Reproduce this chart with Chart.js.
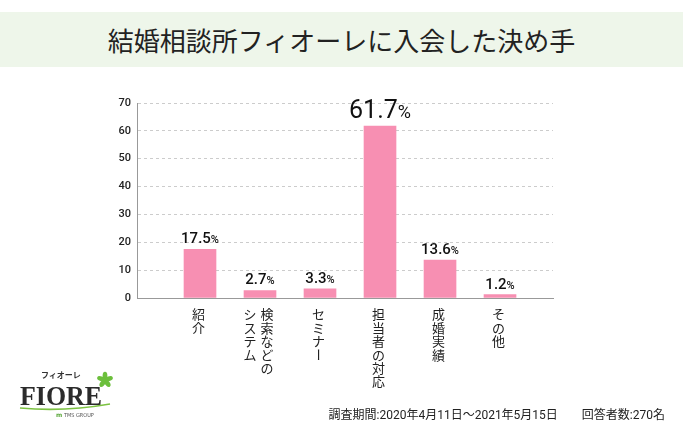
<!DOCTYPE html>
<html lang="ja">
<head>
<meta charset="utf-8">
<script src="https://cdn.jsdelivr.net/npm/chart.js"></script>
<style>
  html, body { margin: 0; padding: 0; background: #fff; }
  body { width: 683px; height: 436px; position: relative; overflow: hidden; font-family: Roboto, "Noto Sans CJK JP", sans-serif; }
  #title { position: absolute; left: 0; top: 12px; width: 683px; height: 55px; line-height: 55px; background: #eef6ea;
           text-align: center; font-family: "Noto Sans CJK JP"; font-size: 26px; color: #222; }
  #wrap { position: absolute; left: 0; top: 0; width: 683px; height: 436px; }
  #note { position: absolute; right: 18px; top: 405px; font-size: 12px; color: #222; white-space: nowrap; }
  #logo { position: absolute; left: 10px; top: 365px; }
</style>
</head>
<body>
<div id="title">結婚相談所フィオーレに入会した決め手</div>
<div id="wrap"><canvas id="barChart" width="683" height="436"></canvas></div>
<div id="note">調査期間:2020年4月11日〜2021年5月15日　　回答者数:270名</div>
<svg id="logo" width="110" height="60" viewBox="0 0 110 60">
  <text x="31" y="13" font-family="Noto Sans CJK JP" font-size="8" font-weight="bold" fill="#333">フィオーレ</text>
  <text x="10" y="40" font-family="Liberation Serif" font-size="28" font-weight="bold" fill="#2b2b2b"
        textLength="82" lengthAdjust="spacingAndGlyphs">FIORE</text>
  <path d="M10 43 Q 55 47 100 39" stroke="#7cc242" stroke-width="1.6" fill="none"/>
  <g transform="translate(95 15)" fill="#6cbf3c">
    <ellipse cx="0" cy="-4" rx="2.4" ry="4.2"/>
    <ellipse cx="0" cy="-4" rx="2.4" ry="4.2" transform="rotate(72)"/>
    <ellipse cx="0" cy="-4" rx="2.4" ry="4.2" transform="rotate(144)"/>
    <ellipse cx="0" cy="-4" rx="2.4" ry="4.2" transform="rotate(216)"/>
    <ellipse cx="0" cy="-4" rx="2.4" ry="4.2" transform="rotate(288)"/>
  </g>
  <text x="46" y="52" font-family="DejaVu Sans" font-size="6" font-weight="bold" fill="#5aa83a">m</text>
  <text x="54" y="52" font-family="DejaVu Sans Condensed" font-size="5.5" fill="#555">TMS GROUP</text>
</svg>
<script>
const categories = ['紹介', ['検索などの', 'システム'], 'セミナー', '担当者の対応', '成婚実績', 'その他'];
const values = [17.5, 2.7, 3.3, 61.7, 13.6, 1.2];
const yTicks = [0, 10, 20, 30, 40, 50, 60, 70];

// numbers over the bars, "%" a bit smaller
const valueLabels = {
    id: 'valueLabels',
    afterDatasetsDraw(chart) {
        const ctx = chart.ctx;
        const top = Math.max(...values);
        chart.getDatasetMeta(0).data.forEach((bar, i) => {
            const big = values[i] === top;
            const num = values[i].toFixed(1);
            const f1 = big ? 25 : 15, f2 = big ? 18 : 11;
            const wt = big ? 400 : 500;
            ctx.save();
            ctx.fillStyle = '#111';
            ctx.textAlign = 'left';
            ctx.textBaseline = 'alphabetic';
            ctx.font = `${wt} ${f1}px Roboto`;
            const w1 = ctx.measureText(num).width;
            ctx.font = `${wt} ${f2}px Roboto`;
            const w2 = ctx.measureText('%').width;
            const x0 = bar.x - (w1 + w2) / 2;
            const y = bar.y - (big ? 8 : 6);
            ctx.font = `${wt} ${f1}px Roboto`;
            ctx.fillText(num, x0, y);
            ctx.font = `${wt} ${f2}px Roboto`;
            ctx.fillText('%', x0 + w1, y);
            ctx.restore();
        });
    }
};

// vertical (tategaki) category labels, columns right to left
const catLabels = {
    id: 'catLabels',
    afterDraw(chart) {
        const ctx = chart.ctx;
        const xs = chart.scales.x;
        const y0 = chart.chartArea.bottom + 16.5;
        ctx.save();
        ctx.font = '13px "Noto Sans CJK JP"';
        ctx.fillStyle = '#222';
        ctx.textAlign = 'center';
        ctx.textBaseline = 'middle';
        categories.forEach((lab, i) => {
            const cols = Array.isArray(lab) ? lab : [lab];
            const cx = xs.getPixelForValue(i + 1) - 1.5;
            cols.forEach((col, c) => {
                const x = cx + ((cols.length - 1) / 2 - c) * 17;
                [...col].forEach((ch, k) => {
                    const y = y0 + k * 13.4;
                    if (ch === 'ー') {
                        ctx.save();
                        ctx.translate(x, y);
                        ctx.rotate(Math.PI / 2);
                        ctx.fillText(ch, 0, 0);
                        ctx.restore();
                    } else {
                        ctx.fillText(ch, x, y);
                    }
                });
            });
        });
        ctx.restore();
    }
};

const barChart = document.getElementById('barChart');

new Chart(barChart, {
    type: 'bar',
    data: {
        datasets: [{
            data: values.map((v, i) => ({ x: i + 1, y: v })),
            backgroundColor: '#f78fb2',
            borderWidth: 0,
            barThickness: 32
        }]
    },
    options: {
        responsive: false,
        animation: false,
        layout: { padding: { left: 107, right: 130, top: 103, bottom: 138 } },
        plugins: {
            legend: { display: false },
            tooltip: { enabled: false }
        },
        scales: {
            x: {
                type: 'linear',
                min: -0.05,
                max: 6.883,
                offset: false,
                afterBuildTicks: s => { s.ticks = categories.map((c, i) => ({ value: i + 1 })); },
                ticks: { display: false },
                grid: { display: false, offset: false },
                border: { color: '#999', width: 1 },
                afterFit: s => { s.height = 0; }
            },
            y: {
                min: yTicks[0],
                max: yTicks[yTicks.length - 1],
                afterBuildTicks: s => { s.ticks = yTicks.map(v => ({ value: v })); },
                ticks: { color: '#222', font: { family: 'Roboto', size: 11, weight: '500' }, padding: 6 },
                grid: { color: '#cccccc', drawTicks: false },
                border: { color: '#999', width: 1, dash: [3, 3] },
                afterFit: s => { s.width = 30; }
            }
        }
    },
    plugins: [valueLabels, catLabels]
});
</script>
</body>
</html>
